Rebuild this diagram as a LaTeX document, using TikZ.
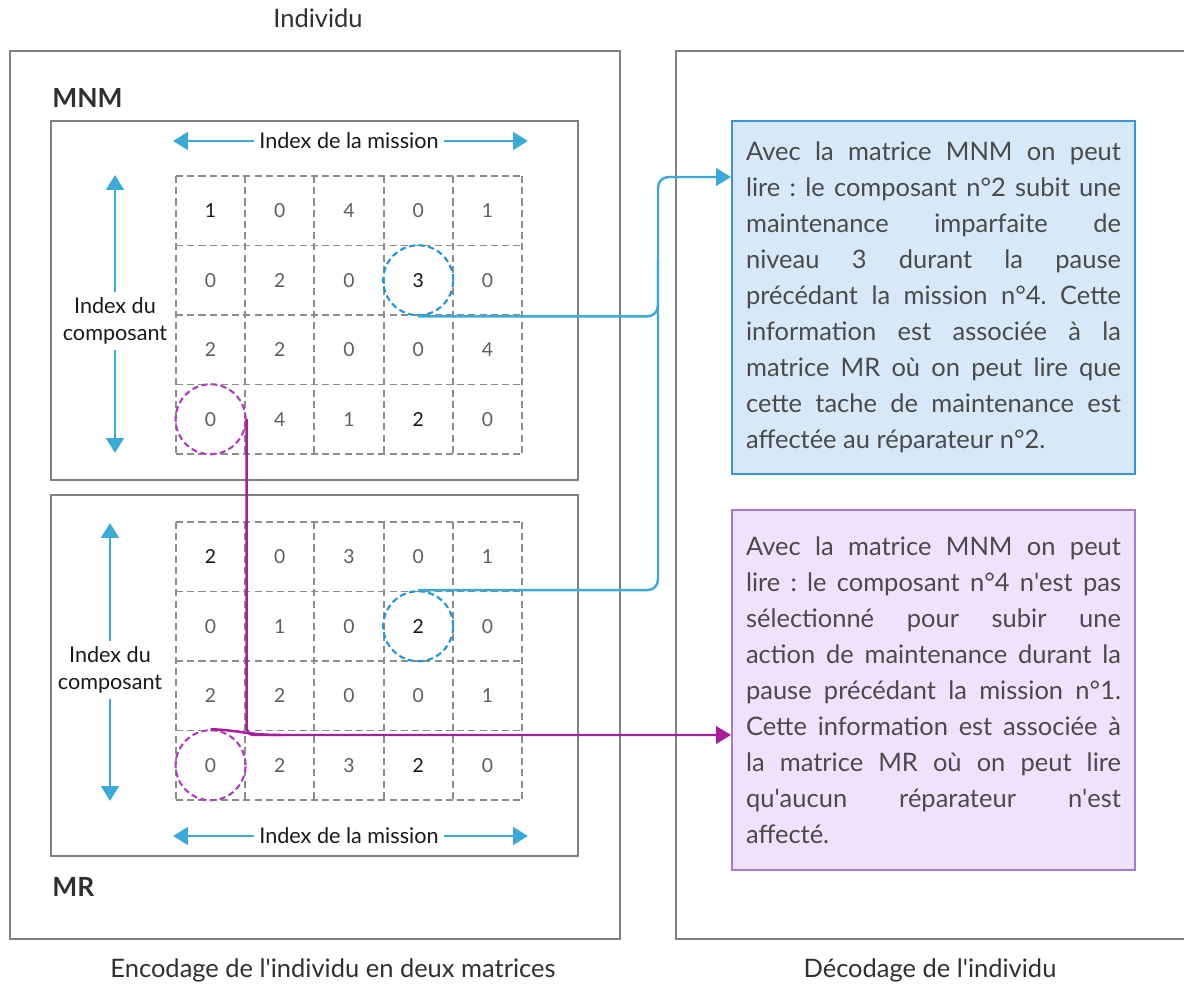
\documentclass[tikz,border=0pt]{standalone}
\usepackage{fontspec}
\setmainfont{Lato}
\usetikzlibrary{arrows.meta,calc,positioning}
\frenchspacing

\definecolor{framegray}{HTML}{808080}
\definecolor{gridgray}{HTML}{8C8C8C}
\definecolor{headgray}{HTML}{303030}
\definecolor{bodygray}{HTML}{4A4A4A}
\definecolor{numgray}{HTML}{5E5E5E}
\definecolor{numdark}{HTML}{141414}
\definecolor{idxblue}{HTML}{3AAAD8}
\definecolor{ringblue}{HTML}{1E98D4}
\definecolor{ringpurple}{HTML}{B03CC0}
\definecolor{linkpurple}{HTML}{A81C9E}
\definecolor{boxblue}{HTML}{3A95DB}
\definecolor{fillblue}{HTML}{D7E9F8}
\definecolor{boxpurple}{HTML}{A57BD0}
\definecolor{fillpurple}{HTML}{F0E2FC}

\newcommand{\dk}[1]{\textcolor{numdark}{#1}}

\tikzset{
	frame/.style={draw=framegray, line width=1.6pt},
	gridline/.style={draw=gridgray, dash pattern=on 4pt off 2.4pt, line width=1.1pt},
	num/.style={text=numgray, font=\fontsize{11}{13}\selectfont},
	idx/.style={text=black!90, font=\fontsize{12.3}{15.5}\selectfont, align=center, inner sep=3pt},
	idxarrow/.style={draw=idxblue, line width=1.7pt, -{Triangle[width=10pt,length=8.5pt]}},
	ring/.style={circle, dash pattern=on 3.5pt off 2pt, line width=1.2pt, minimum size=1.4cm, inner sep=0pt},
	link/.style={line width=1.4pt, rounded corners=6pt},
	tip/.style={-{Triangle[width=10pt,length=8.5pt]}},
	info/.style={anchor=north west, line width=1.2pt, text=bodygray, minimum width=8.06cm, text width=7.5cm, inner xsep=0.28cm, align=justify, font=\fontsize{14.5}{20.5}\selectfont},
	head/.style={text=headgray, font=\fontsize{14.5}{17}\selectfont},
	mat/.style={text=headgray, font=\fontsize{15}{17}\selectfont\bfseries, anchor=west, inner sep=0pt},
}

\begin{document}
\begin{tikzpicture}[x=0.02cm, y=-0.02cm]
	\clip (0,0) rectangle (1184,989);
	
	\node[head] (indiv) at (318,18) {Individu};
	\node[head] (enc) at (333,970) {Encodage de l\textquotesingle individu en deux matrices};
	\node[head] (dec) at (930,970) {Décodage de l\textquotesingle individu};
	\draw[frame] (10,51) rectangle (620,939);
	\draw[frame] (1200,51) -| (676,939) -- (1200,939);
	
	\node[mat] (mnm) at (52,98) {MNM};
	\node[mat] (mr) at (52,887) {MR};
	\draw[frame, line width=1.3pt] (51,121) rectangle (578,480);
	\draw[frame, line width=1.3pt] (51,495) rectangle (578,856);
	
	\foreach \top in {176,522} {
		\foreach \i in {0,...,5}
			\draw[gridline] (176+69.2*\i,\top) -- (176+69.2*\i,\top+278);
		\foreach \j in {0,...,4}
			\draw[gridline] (176,\top+69.5*\j) -- (522,\top+69.5*\j);
	}
	\foreach \row [count=\r] in {{\dk{1},0,4,0,1},{0,2,0,\dk{3},0},{2,2,0,0,4},{0,4,1,\dk{2},0}}
		\foreach \v [count=\c] in \row
			\node[num] (mnm-\r-\c) at (141.4+69.2*\c,141.25+69.5*\r) {\v};
	\foreach \row [count=\r] in {{\dk{2},0,3,0,1},{0,1,0,\dk{2},0},{2,2,0,0,1},{0,2,3,\dk{2},0}}
		\foreach \v [count=\c] in \row
			\node[num] (mr-\r-\c) at (141.4+69.2*\c,487.25+69.5*\r) {\v};
	
	\node[idx] (missA) at (349,141) {Index de la mission};
	\node[idx] (compA) at (115,321) {Index du\\composant};
	\node[idx] (missB) at (349,836) {Index de la mission};
	\node[idx] (compB) at (110,670) {Index du\\composant};
	\coordinate (missA-l) at (173,141);
	\coordinate (missA-r) at (528,141);
	\coordinate (compA-t) at (115,175);
	\coordinate (compA-b) at (115,453);
	\coordinate (missB-l) at (173,836);
	\coordinate (missB-r) at (528,836);
	\coordinate (compB-t) at (110,523);
	\coordinate (compB-b) at (110,801);
	\draw[idxarrow] (missA.west) -- (missA-l);
	\draw[idxarrow] (missA.east) -- (missA-r);
	\draw[idxarrow] (compA.north) -- (compA-t);
	\draw[idxarrow] (compA.south) -- (compA-b);
	\draw[idxarrow] (missB.west) -- (missB-l);
	\draw[idxarrow] (missB.east) -- (missB-r);
	\draw[idxarrow] (compB.north) -- (compB-t);
	\draw[idxarrow] (compB.south) -- (compB-b);
	
	\node[ring, draw=ringblue] (ringA) at (mnm-2-4) {};
	\node[ring, draw=ringpurple] (ringB) at (mnm-4-1) {};
	\node[ring, draw=ringblue] (ringC) at (mr-2-4) {};
	\node[ring, draw=ringpurple] (ringD) at (mr-4-1) {};
	
	\node[info, draw=boxblue, fill=fillblue, minimum height=7.06cm] (infoA) at (731,120) {Avec la matrice MNM on peut\linebreak
		lire : le composant n°2 subit une\linebreak
		maintenance imparfaite de\linebreak
		niveau 3 durant la pause\linebreak
		précédant la mission n°4. Cette\linebreak
		information est associée à la\linebreak
		matrice MR où on peut lire que\linebreak
		cette tache de maintenance est\linebreak
		affectée au réparateur n°2.};
	\node[info, draw=boxpurple, fill=fillpurple, minimum height=7.2cm] (infoB) at (731,509) {Avec la matrice MNM on peut\linebreak
		lire : le composant n°4 n\textquotesingle est pas\linebreak
		sélectionné pour subir une\linebreak
		action de maintenance durant la\linebreak
		pause précédant la mission n°1.\linebreak
		Cette information est associée à\linebreak
		la matrice MR où on peut lire\linebreak
		qu\textquotesingle aucun réparateur n\textquotesingle est\linebreak
		affecté.};
	
	\coordinate (bjoin) at (658,177);
	\coordinate (bstem) at (658,260);
	\coordinate (pjoin) at (245,735);
	\coordinate (pmerge) at (282,735);
	\draw[link, draw=idxblue, tip] (ringA.south) -| (bjoin) -- (infoA.west |- bjoin);
	\draw[link, draw=idxblue] (ringC.north) -| (bstem);
	\draw[link, draw=linkpurple, tip, rounded corners=4pt] (ringB.east) |- (infoB.west |- pjoin);
	\draw[link, draw=linkpurple] (ringD.north) .. controls (238,730) and (246,735) .. (pmerge);
\end{tikzpicture}
\end{document}
